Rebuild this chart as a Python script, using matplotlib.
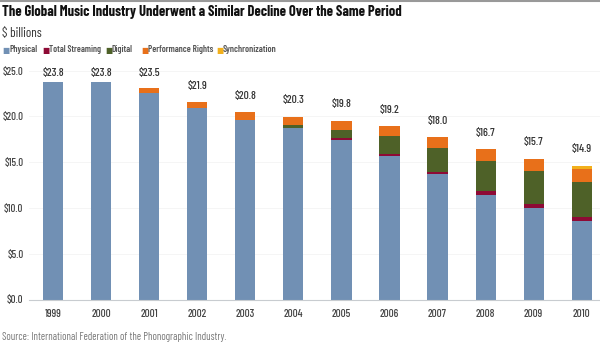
import numpy as np
import matplotlib.pyplot as plt
import matplotlib.font_manager as fm

years = ["1999", "2000", "2001", "2002", "2003", "2004",
         "2005", "2006", "2007", "2008", "2009", "2010"]
physical = [23.75, 23.75, 22.5, 20.87, 19.6, 18.72, 17.41, 15.70, 13.67, 11.44, 9.99, 8.60]
streaming = [0.0, 0.0, 0.0, 0.0, 0.0, 0.0, 0.19, 0.18, 0.25, 0.37, 0.44, 0.44]
digital = [0.0, 0.0, 0.0, 0.0, 0.0, 0.36, 0.94, 1.97, 2.62, 3.34, 3.64, 3.79]
performance = [0.0, 0.0, 0.6, 0.69, 0.87, 0.87, 0.95, 1.06, 1.16, 1.24, 1.31, 1.42]
sync = [0.0, 0.0, 0.0, 0.0, 0.0, 0.0, 0.0, 0.0, 0.0, 0.0, 0.0, 0.33]
totals = ["$23.8", "$23.8", "$23.5", "$21.9", "$20.8", "$20.3",
          "$19.8", "$19.2", "$18.0", "$16.7", "$15.7", "$14.9"]
yticks = [0, 5, 10, 15, 20, 25]

names = ["Physical", "Total Streaming", "Digital", "Performance Rights", "Synchronization"]
colors = ["#7190b4", "#8e0a35", "#4e6128", "#e8701a", "#f2b01c"]
series = [physical, streaming, digital, performance, sync]

# pick a condensed face if one is installed
have = set(f.name for f in fm.fontManager.ttflist)
narrow = "DejaVu Sans"
for cand in ["Barlow Condensed", "Roboto Condensed", "Archivo Narrow", "PT Sans Narrow",
             "Liberation Sans Narrow", "Barlow Semi Condensed"]:
    if cand in have:
        narrow = cand
        break
plt.rcParams['font.family'] = [narrow, "DejaVu Sans"]

fig = plt.figure(figsize=(6, 3.51), dpi=100)
ax = fig.add_axes([29/600, 51.5/351, 1 - 29/600, 229/351])


def fit(t, width_px):
    # shrink/grow a text so it spans about the same width as in the reference
    fig.canvas.draw()
    w = t.get_window_extent().width
    t.set_fontsize(t.get_fontsize() * width_px / w)


x = np.arange(len(years))
bottom = np.zeros(len(years))
for vals, c, n in zip(series, colors, names):
    ax.bar(x, vals, 0.42, bottom=bottom, color=c, label=n, linewidth=0)
    bottom += np.array(vals)

for xi, top, lab in zip(x, bottom, totals):
    ax.text(xi, min(top + 1.8, 24.75), lab, ha='center', va='center',
            fontsize=8.3, color='#333333', clip_on=False, fontweight='medium')

ax.set_xlim(-0.5, 11.38)
ax.set_ylim(0, 25)
ax.set_xticks(x)
ax.set_xticklabels(years, fontsize=8, color='#444444', fontweight='medium')
ax.set_yticks(yticks)
ax.set_yticklabels(["$%.1f" % v for v in yticks], fontsize=7.8, color='#444444',
                   fontweight='medium')
ax.tick_params(length=0)
ax.tick_params(axis='x', pad=7)
ax.tick_params(axis='y', pad=4)
for s in ['top', 'right', 'left']:
    ax.spines[s].set_visible(False)
ax.spines['bottom'].set_color('#c8ccd0')
ax.set_axisbelow(True)
ax.grid(axis='y', color='#f4f4f4', linewidth=0.6)

# header
fig.add_artist(plt.Line2D([0, 1], [1 - 1/351, 1 - 1/351], color='#999999', linewidth=1.5))
title = fig.text(2/600, 1 - 12/351,
                 "The Global Music Industry Underwent a Similar Decline Over the Same Period",
                 fontsize=10, fontweight='bold', color='#111111', va='center', ha='left')
fit(title, 400)
fig.text(2/600, 1 - 34/351, "$ billions", fontsize=9.5, color='#333333',
         va='center', ha='left')

# legend row
leg_x = [2, 42, 105, 141, 216]
leg_w = [28, 52, 21, 66, 54]
for n, c, lx, lw in zip(names, colors, leg_x, leg_w):
    fig.text(lx/600, 1 - 50/351, "\u25a0", fontsize=5.5, color=c, va='center', ha='left',
             family='DejaVu Sans')
    t = fig.text((lx + 7)/600, 1 - 50/351, n, fontsize=7, color='#555555',
                 va='center', ha='left', fontweight='semibold')
    fit(t, lw)

src = fig.text(2/600, 1 - 337/351, "Source: International Federation of the Phonographic Industry.",
               fontsize=7, color='#777777', va='center', ha='left')
fit(src, 226)

fig.savefig("out.png", dpi=100)
